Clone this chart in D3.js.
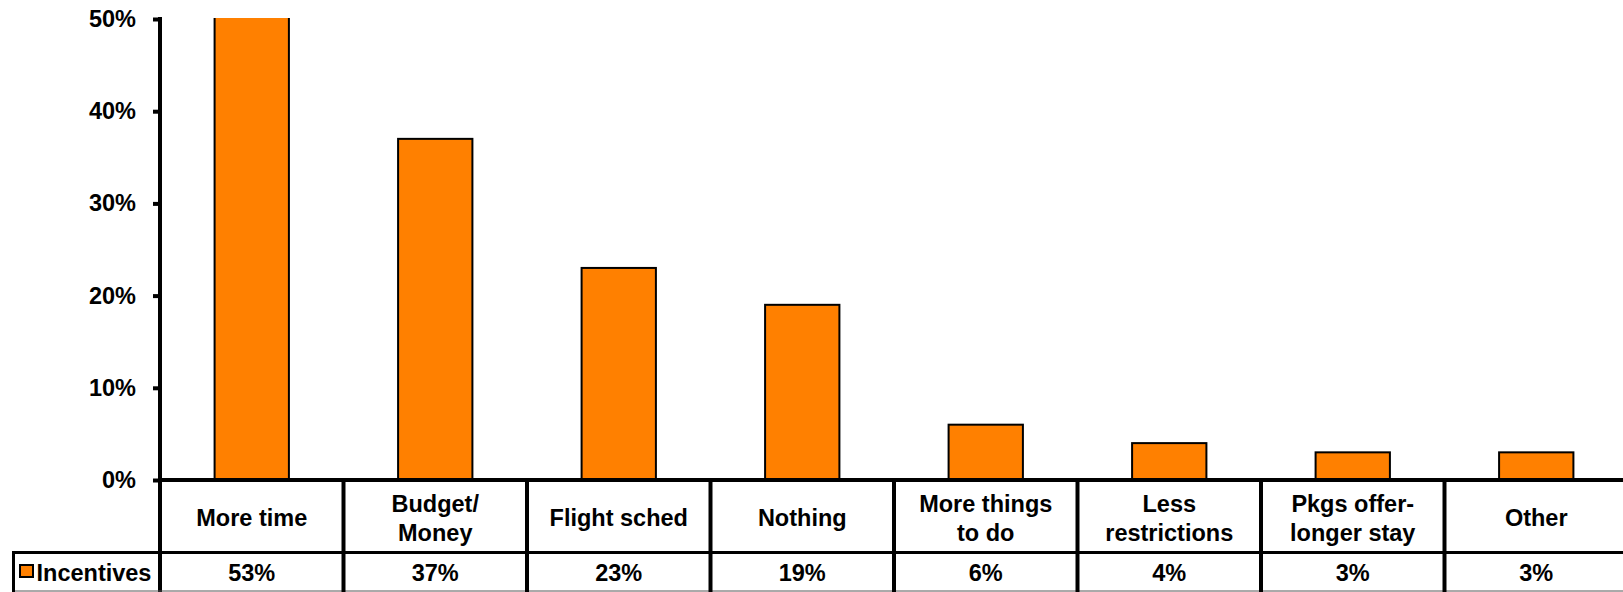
<!DOCTYPE html>
<html>
<head>
<meta charset="utf-8">
<script src="https://cdn.jsdelivr.net/npm/d3@7"></script>
<style>
  html, body { margin: 0; padding: 0; background: #fff; }
  svg { display: block; }
  text { font-family: "Liberation Sans", Arial, sans-serif; font-weight: bold; fill: #000; }
</style>
</head>
<body>
<script>
const categories = [["More time"], ["Budget/", "Money"], ["Flight sched"], ["Nothing"], ["More things", "to do"], ["Less", "restrictions"], ["Pkgs offer-", "longer stay"], ["Other"]];
const values = [0.53, 0.37, 0.23, 0.19, 0.06, 0.04, 0.03, 0.03];
const valueLabels = ["53%", "37%", "23%", "19%", "6%", "4%", "3%", "3%"];
const yTicks = [0, 0.1, 0.2, 0.3, 0.4, 0.5];
const seriesName = "Incentives";

const W = 1623, H = 592;
const fontSize = 23.5;
const orange = "#FF8000";

const svg = d3.select("body").append("svg").attr("width", W).attr("height", H);

const x0 = 160, x1 = 160 + 8 * 183.5;
const yTop = 19, yBase = 480;
const x = d3.scaleBand().domain(d3.range(categories.length)).range([x0, x1]).paddingInner(0).paddingOuter(0);
const y = d3.scaleLinear().domain([0, 0.5]).range([yBase, yTop]);

svg.append("defs").append("clipPath").attr("id", "plotclip")
  .append("rect").attr("x", x0).attr("y", yTop - 1).attr("width", x1 - x0).attr("height", yBase - yTop + 1);

const barW = x.bandwidth() * 0.405;
svg.append("g").attr("clip-path", "url(#plotclip)")
  .selectAll("rect").data(values).enter().append("rect")
  .attr("x", (d, i) => x(i) + x.bandwidth() / 2 - barW / 2)
  .attr("y", d => y(d))
  .attr("width", barW)
  .attr("height", d => yBase - y(d))
  .attr("fill", orange)
  .attr("stroke", "#000")
  .attr("stroke-width", 2);

// y axis
const yAxis = d3.axisLeft(y).tickValues(yTicks).tickFormat(d3.format(".0%")).tickSize(7).tickPadding(17);
const gy = svg.append("g").attr("transform", `translate(${x0},0)`).call(yAxis);
gy.select(".domain").remove();
gy.selectAll(".tick line").attr("stroke", "#000").attr("stroke-width", 4);
gy.selectAll(".tick text").attr("font-size", fontSize).attr("font-family", "Liberation Sans, Arial, sans-serif").attr("font-weight", "bold").attr("fill", "#000");
svg.append("line").attr("x1", x0).attr("x2", x0).attr("y1", yTop - 2).attr("y2", H)
  .attr("stroke", "#000").attr("stroke-width", 4);

// table
const row1Top = yBase, row1Bot = 552.5, row2Bot = 591;
const grid = svg.append("g");
grid.append("line").attr("x1", x0 - 2).attr("x2", W).attr("y1", row1Top).attr("y2", row1Top).attr("stroke", "#000").attr("stroke-width", 4);
grid.append("line").attr("x1", 12).attr("x2", W).attr("y1", row1Bot).attr("y2", row1Bot).attr("stroke", "#000").attr("stroke-width", 3);
grid.append("line").attr("x1", 12).attr("x2", W).attr("y1", row2Bot).attr("y2", row2Bot).attr("stroke", "#555").attr("stroke-width", 1);
grid.append("line").attr("x1", 13.5).attr("x2", 13.5).attr("y1", row1Bot - 1.5).attr("y2", H).attr("stroke", "#000").attr("stroke-width", 3);
grid.selectAll("line.div").data(d3.range(1, categories.length)).enter().append("line")
  .attr("class", "div")
  .attr("x1", i => x(i)).attr("x2", i => x(i))
  .attr("y1", row1Top).attr("y2", H)
  .attr("stroke", "#000").attr("stroke-width", 4);

// category labels
const lineH = 29;
const catG = svg.append("g");
categories.forEach((lines, i) => {
  const cx = x(i) + x.bandwidth() / 2;
  const cy = (row1Top + row1Bot) / 2 + 2;
  const t = catG.append("text").attr("text-anchor", "middle").attr("font-size", fontSize);
  lines.forEach((ln, k) => {
    t.append("tspan").attr("x", cx)
      .attr("y", cy + (k - (lines.length - 1) / 2) * lineH)
      .attr("dy", "0.35em").text(ln);
  });
});

// value labels
svg.append("g").selectAll("text").data(valueLabels).enter().append("text")
  .attr("x", (d, i) => x(i) + x.bandwidth() / 2)
  .attr("y", (row1Bot + row2Bot) / 2 + 1)
  .attr("dy", "0.35em")
  .attr("text-anchor", "middle").attr("font-size", fontSize)
  .text(d => d);

// legend cell
svg.append("rect").attr("x", 20).attr("y", 565).attr("width", 13).attr("height", 12)
  .attr("fill", orange).attr("stroke", "#000").attr("stroke-width", 2);
svg.append("text").attr("x", 36.5).attr("y", (row1Bot + row2Bot) / 2 + 1).attr("dy", "0.35em")
  .attr("font-size", fontSize).text(seriesName);
</script>
</body>
</html>
